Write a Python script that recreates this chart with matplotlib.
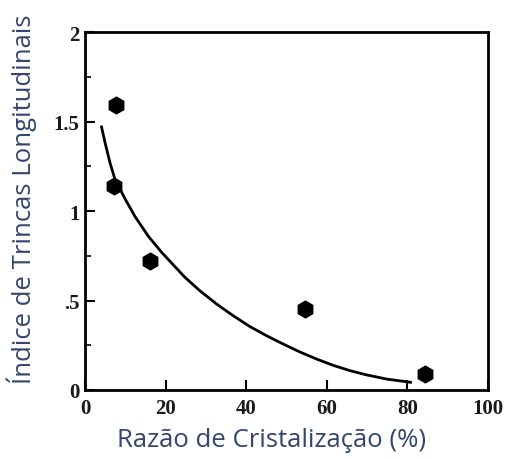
import numpy as np
import matplotlib.pyplot as plt

# pontos medidos
razao = [7.7, 7.2, 16.1, 54.6, 84.5]
indice = [1.59, 1.14, 0.72, 0.45, 0.09]

# curva de tendencia
curva_x = [4.1, 5.0, 6.2, 7.4, 9.9, 12.4, 15.7, 19.0, 22.3, 24.8, 28.5, 32.7,
           36.8, 40.9, 45.1, 49.2, 53.3, 57.5, 61.6, 65.8, 70.0, 74.9, 79.9, 80.8]
curva_y = [1.47, 1.38, 1.27, 1.18, 1.07, 0.97, 0.86, 0.77, 0.69, 0.63, 0.555, 0.48,
           0.415, 0.355, 0.303, 0.257, 0.213, 0.173, 0.138, 0.108, 0.084, 0.061, 0.046, 0.043]

xticks = [0, 20, 40, 60, 80, 100]
yticks = [0, 0.5, 1, 1.5, 2]
yticklabels = ["0", ".5", "1", "1.5", "2"]

cor_texto = '#34466e'

fig = plt.figure(figsize=(5.06, 4.6), dpi=100)
ax = fig.add_axes([0.168, 0.15, 0.796, 0.778])

ax.plot(curva_x, curva_y, color='black', linewidth=2.0, solid_joinstyle='round')
ax.plot(razao, indice, linestyle='none', marker='h', markersize=12,
        color='black', markeredgecolor='black')

ax.set_xlim(0, 100)
ax.set_ylim(0, 2)
ax.set_xticks(xticks)
ax.set_yticks(yticks)
ax.set_yticklabels(yticklabels)
ax.set_yticks(np.arange(0, 2.01, 0.25), minor=True)

for lab in ax.get_xticklabels() + ax.get_yticklabels():
    lab.set_family('Liberation Serif')
    lab.set_fontsize(15)
    lab.set_fontweight('bold')
    lab.set_color('#1a1a1a')

ax.tick_params(which='major', direction='in', length=7, width=1.5, pad=4)
ax.tick_params(which='minor', direction='in', length=4, width=1.2)
ax.tick_params(axis='x', which='major', pad=6)
for s in ax.spines.values():
    s.set_linewidth(2.0)

ax.set_xlabel('Razão de Cristalização (%)', family='Open Sans', fontsize=18.5,
              color=cor_texto, va='center')
ax.set_ylabel('Índice de Trincas Longitudinais', family='Open Sans', fontsize=18.5,
              color=cor_texto, va='center')
ax.xaxis.set_label_coords(0.464, -0.137)
ax.yaxis.set_label_coords(-0.156, 0.536)

fig.savefig('out.png', dpi=100)
